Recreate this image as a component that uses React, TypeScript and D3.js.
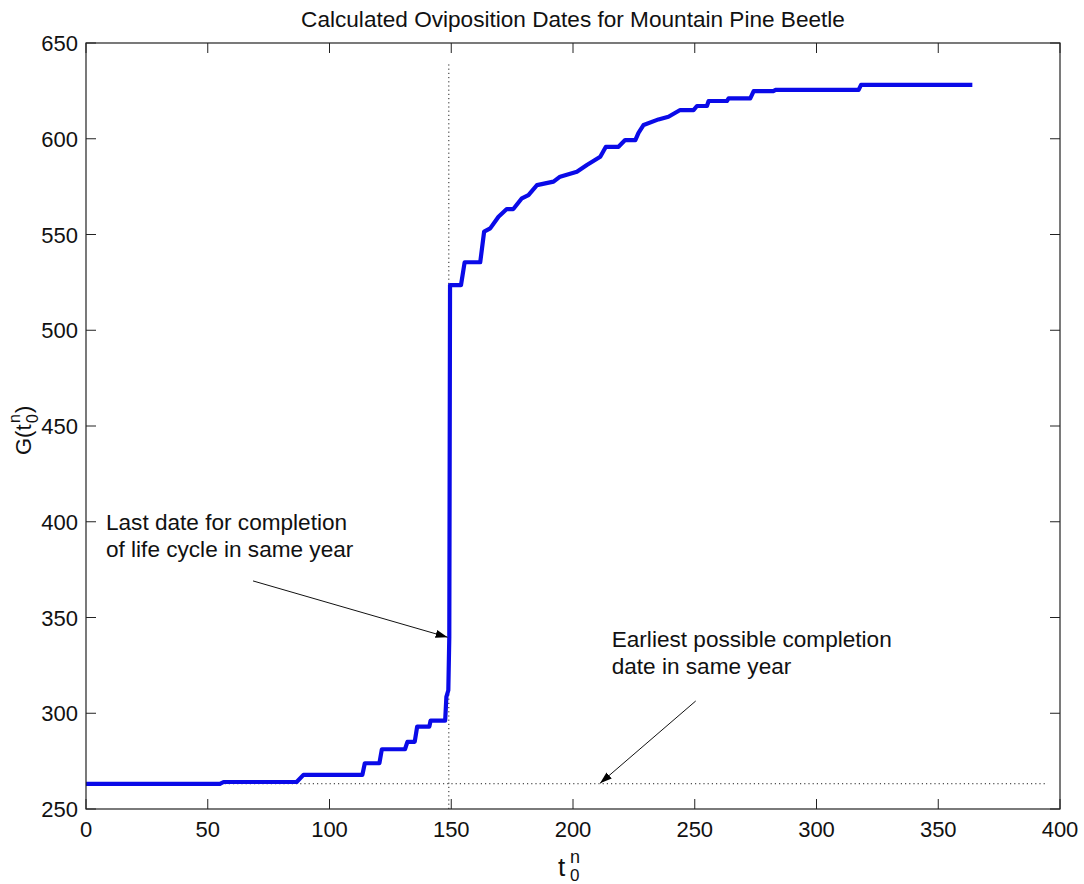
import React from "react";
import * as d3 from "d3";

// Oviposition date t0^n (day of year) and accumulated G(t0^n)
const dayValues = [
  0, 55, 56.5, 86.5, 89.3, 113.5, 114.5, 120.5, 121.5, 131, 132, 135, 136, 141,
  141.5, 147.5, 148, 148.8, 149.2, 149.5, 154, 155.5, 161.9, 163.5, 166, 169.4,
  172.8, 175.5, 179, 181.7, 185.2, 192, 194.7, 201.6, 205.7, 211.2, 213.5,
  218.7, 221.4, 225.6, 226.9, 229, 235.1, 239.2, 244, 249.5, 250.9, 255, 255.7,
  263.2, 263.9, 272.8, 274.2, 282.4, 283.1, 317.3, 318.3, 364,
];
const gValues = [
  263.1, 263.1, 264.1, 264.1, 267.8, 267.8, 273.9, 273.9, 281.2, 281.2, 285.1,
  285.1, 293, 293, 296.1, 296.1, 308.6, 312, 340, 523.6, 523.6, 535.5, 535.5,
  551.5, 553.2, 559.3, 563.3, 563.3, 568.9, 570.6, 575.8, 577.6, 580.2, 582.8,
  586.3, 590.6, 595.8, 595.8, 599.3, 599.3, 603.1, 607.2, 610.1, 611.5, 615,
  615, 617.1, 617.1, 619.7, 619.7, 621.1, 621.1, 624.9, 624.9, 625.5, 625.5,
  628.1, 628.1,
];

const xTicks = [0, 50, 100, 150, 200, 250, 300, 350, 400];
const yTicks = [250, 300, 350, 400, 450, 500, 550, 600, 650];

// reference lines
const lastDay = 149;
const lastDayRange = [250, 640];
const earliestG = 263.2;
const earliestRange = [0, 395];

const titleText = "Calculated Oviposition Dates for Mountain Pine Beetle";
const noteLast = ["Last date for completion", "of life cycle in same year"];
const noteEarliest = ["Earliest possible completion", "date in same year"];

const W = 1084;
const H = 884;
const FONT = "'Liberation Sans', Arial, Helvetica, sans-serif";

export default function App() {
  const x = d3.scaleLinear().domain([0, 400]).range([86, 1060]);
  const y = d3.scaleLinear().domain([250, 650]).range([809, 43]);
  const [x0, x1] = x.range();
  const [y0, y1] = y.range();

  const pts: [number, number][] = dayValues.map((d, i) => [d, gValues[i]]);
  const line = d3
    .line<[number, number]>()
    .x((d) => x(d[0]))
    .y((d) => y(d[1]));

  const tickLen = 10;
  const fs = 22;
  const noteFs = 22.6;

  // annotation arrows, in data units
  const arrows = [
    { from: [68.6, 369.1], to: [148.5, 339.7] },
    { from: [250.4, 306.4], to: [211.1, 263.4] },
  ];

  return (
    <svg
      width={W}
      height={H}
      style={{ position: "absolute", left: 0, top: 0, background: "#fff" }}
      fontFamily={FONT}
    >
      <defs>
        <marker
          id="arrowhead"
          viewBox="0 0 12 8"
          refX="12"
          refY="4"
          markerWidth="12"
          markerHeight="8"
          markerUnits="userSpaceOnUse"
          orient="auto"
        >
          <path d="M0,0 L12,4 L0,8 Z" fill="#000" />
        </marker>
      </defs>
      <rect x={0} y={0} width={W} height={H} fill="#fff" />

      {/* title */}
      <text x={(x0 + x1) / 2} y={27} textAnchor="middle" fontSize={22.6} fill="#111">
        {titleText}
      </text>

      {/* dotted reference lines */}
      <line
        x1={x(lastDay)}
        x2={x(lastDay)}
        y1={y(lastDayRange[0])}
        y2={y(lastDayRange[1])}
        stroke="#222"
        strokeWidth={1}
        strokeDasharray="1.2 3"
      />
      <line
        x1={x(earliestRange[0])}
        x2={x(earliestRange[1])}
        y1={y(earliestG)}
        y2={y(earliestG)}
        stroke="#222"
        strokeWidth={1}
        strokeDasharray="1.2 3"
      />

      {/* curve */}
      <path
        d={line(pts) || ""}
        fill="none"
        stroke="#0a0ae8"
        strokeWidth={4.2}
        strokeLinejoin="round"
      />

      {/* box */}
      <rect
        x={x0}
        y={y1}
        width={x1 - x0}
        height={y0 - y1}
        fill="none"
        stroke="#222"
        strokeWidth={1.2}
      />

      {/* x ticks */}
      {xTicks.map((t) => (
        <g key={"x" + t}>
          <line x1={x(t)} x2={x(t)} y1={y0} y2={y0 - tickLen} stroke="#222" />
          <line x1={x(t)} x2={x(t)} y1={y1} y2={y1 + tickLen} stroke="#222" />
          <text x={x(t)} y={y0 + 28} textAnchor="middle" fontSize={fs} fill="#111">
            {t}
          </text>
        </g>
      ))}

      {/* y ticks */}
      {yTicks.map((t) => (
        <g key={"y" + t}>
          <line x1={x0} x2={x0 + tickLen} y1={y(t)} y2={y(t)} stroke="#222" />
          <line x1={x1} x2={x1 - tickLen} y1={y(t)} y2={y(t)} stroke="#222" />
          <text x={x0 - 8} y={y(t) + 8} textAnchor="end" fontSize={fs} fill="#111">
            {t}
          </text>
        </g>
      ))}

      {/* x axis label t0^n */}
      <text x={558} y={876} fontSize={26} fill="#111">
        t
      </text>
      <text x={570} y={863} fontSize={18} fill="#111">
        n
      </text>
      <text x={570} y={881} fontSize={17} fill="#111">
        0
      </text>

      {/* y axis label G(t0^n) */}
      <g transform="translate(31,429) rotate(-90)">
        <text x={-26} y={0} fontSize={fs} fill="#111">
          G(t
        </text>
        <text x={6} y={-11} fontSize={16} fill="#111">
          n
        </text>
        <text x={6} y={7} fontSize={16} fill="#111">
          0
        </text>
        <text x={16} y={0} fontSize={fs} fill="#111">
          )
        </text>
      </g>

      {/* annotations */}
      {noteLast.map((s, i) => (
        <text key={"a" + i} x={x(8.2)} y={y(395.8) + i * 27} fontSize={noteFs} fill="#111">
          {s}
        </text>
      ))}
      {noteEarliest.map((s, i) => (
        <text key={"b" + i} x={x(215.9)} y={y(334.6) + i * 27} fontSize={noteFs} fill="#111">
          {s}
        </text>
      ))}
      {arrows.map((a, i) => (
        <line
          key={"ar" + i}
          x1={x(a.from[0])}
          y1={y(a.from[1])}
          x2={x(a.to[0])}
          y2={y(a.to[1])}
          stroke="#111"
          strokeWidth={1}
          markerEnd="url(#arrowhead)"
        />
      ))}
    </svg>
  );
}
